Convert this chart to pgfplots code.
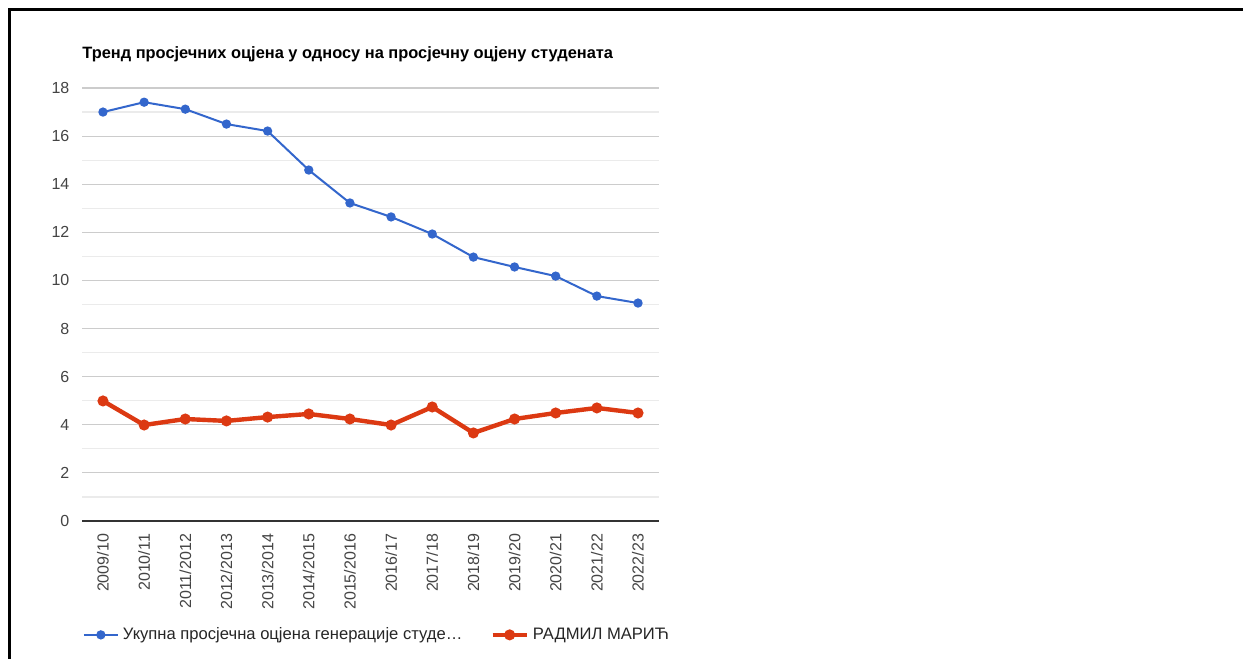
\documentclass[border=0pt]{standalone}
\usepackage{fontspec}
\setmainfont{Liberation Sans}
\usepackage{pgfplots}
\pgfplotsset{compat=1.18}
\definecolor{gblue}{HTML}{3366CC}
\definecolor{gred}{HTML}{DC3912}
\definecolor{majgrid}{HTML}{CCCCCC}
\definecolor{mingrid}{HTML}{EBEBEB}
\definecolor{ticktext}{HTML}{444444}
\definecolor{basel}{HTML}{333333}
\begin{document}
\begin{tikzpicture}
% 1 px = 0.5 pt, picture 1243 x 659 px
\path[use as bounding box] (0,0) rectangle (621.5pt,329.5pt);
\fill[white] (0,0) rectangle (621.5pt,329.5pt);
\draw[line width=1.5pt] (4.75pt,0) -- (4.75pt,324.5pt) -- (621.5pt,324.5pt);
\node[anchor=west,inner sep=0pt,font=\bfseries\fontsize{8.2pt}{10pt}\selectfont] at (41pt,302.5pt)
  {Тренд просјечних оцјена у односу на просјечну оцјену студената};
\begin{axis}[
  at={(41.2pt,69pt)}, anchor=south west,
  width=288.1pt, height=216.5pt, scale only axis,
  xmin=-0.5, xmax=13.5, ymin=0, ymax=18,
  axis line style={draw=none},
  major tick length=0pt, minor tick length=0pt,
  xtick={0,...,13},
  xticklabels={2009/10,2010/11,2011/2012,2012/2013,2013/2014,2014/2015,2015/2016,2016/17,2017/18,2018/19,2019/20,2020/21,2021/22,2022/23},
  ytick={0,2,...,18},
  minor ytick={1,3,...,17},
  ymajorgrids, yminorgrids,
  major grid style={majgrid,line width=0.6pt},
  minor grid style={mingrid,line width=0.6pt},
  tick label style={font=\fontsize{8pt}{9.6pt}\selectfont,text=ticktext},
  /pgf/number format/assume math mode=true,
  xticklabel style={rotate=90,anchor=east},
  xticklabel shift=3pt,
  yticklabel style={xshift=-3pt},
  legend columns=2,
  legend style={at={(0,-0.263)},anchor=west,draw=none,fill=none,
    font=\fontsize{8.3pt}{9.6pt}\selectfont,text=black!85,
    /tikz/every even column/.append style={column sep=12pt},
    inner sep=0pt},
  clip=false,
]
\draw[basel,line width=0.7pt] (axis cs:-0.5,0) -- (axis cs:13.5,0);
\addplot[gblue,line width=1pt,mark=*,mark size=1.8pt,mark options={fill=gblue,draw=gblue}]
  coordinates {(0,17.00) (1,17.41) (2,17.12) (3,16.50) (4,16.21) (5,14.59) (6,13.22)
  (7,12.64) (8,11.93) (9,10.97) (10,10.56) (11,10.18) (12,9.35) (13,9.06)};
\addlegendentry{Укупна просјечна оцјена генерације студе…}
\addplot[gred,line width=2.2pt,mark=*,mark size=1.6pt,mark options={fill=gred,draw=gred}]
  coordinates {(0,4.99) (1,3.99) (2,4.24) (3,4.16) (4,4.32) (5,4.45) (6,4.24)
  (7,3.99) (8,4.74) (9,3.66) (10,4.24) (11,4.49) (12,4.70) (13,4.49)};
\addlegendentry{РАДМИЛ МАРИЋ}
\end{axis}
\end{tikzpicture}
\end{document}
